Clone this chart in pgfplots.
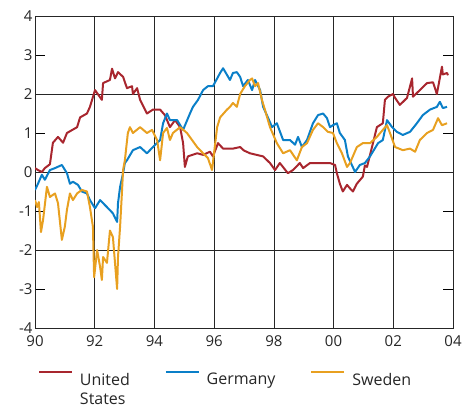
\documentclass[border=0pt]{standalone}
\usepackage{fontspec}
\setmainfont{Open Sans}
\usepackage{pgfplots}
\pgfplotsset{compat=1.18}
\definecolor{usred}{HTML}{A8262E}
\definecolor{deblue}{HTML}{0A7FC8}
\definecolor{seor}{HTML}{E8A020}
\begin{document}
\begin{tikzpicture}
\path[use as bounding box] (-35bp,-82bp) rectangle (432bp,328bp);
\begin{axis}[
  scale only axis, width=418bp, height=312bp,
  xmin=90, xmax=104, ymin=-4, ymax=4,
  xtick={90,92,...,104}, xticklabels={90,92,94,96,98,00,02,04},
  ytick={-4,...,4},
  extra y ticks={-2,0,2}, extra y tick labels={},
  extra y tick style={grid=major, major tick length=0pt},
  xmajorgrids,
  grid style={black!85, line width=0.6pt},
  axis line style={black!85, line width=0.8pt},
  x tick style={draw=none},
  y tick style={black, line width=0.6pt},
  major tick length=10bp,
  tick align=inside,
  ytick pos=both, yticklabel pos=left,
  tick label style={font=\fontsize{15bp}{16bp}\selectfont, text=black!85},
  /pgf/number format/assume math mode=true,
  xticklabel style={yshift=-4bp},
  yticklabel style={xshift=1bp},
  legend style={at={(0,-41bp)}, anchor=north west, draw=none, fill=none,
    legend columns=3, font=\fontsize{16bp}{18.5bp}\selectfont, text=black!85,
    cells={align=left, anchor=north west},
    /tikz/every odd column/.append style={column sep=5bp},
    /tikz/every even column/.append style={column sep=33bp}},
  legend image code/.code={\draw[#1, line width=1.8pt] (0bp,-1bp) -- (33bp,-1bp);},
  every axis plot/.append style={line width=2pt, line join=round},
]
\addplot[usred] coordinates {
(90.00,0.10)(90.10,0.05)(90.23,0.00)(90.33,0.10)(90.50,0.20)(90.60,0.75)(90.77,0.90)(90.94,0.75)
(91.07,1.00)(91.41,1.15)(91.51,1.40)(91.74,1.50)(91.84,1.67)(92.01,2.10)(92.24,1.85)(92.28,2.28)
(92.51,2.36)(92.58,2.65)(92.68,2.40)(92.78,2.56)(92.95,2.44)(93.08,2.15)(93.25,2.20)(93.28,2.00)
(93.42,2.15)(93.52,1.85)(93.75,1.50)(93.95,1.60)(94.19,1.60)(94.35,1.46)(94.52,1.15)(94.69,1.33)
(94.86,1.15)(94.96,0.74)(95.02,0.13)(95.12,0.40)(95.43,0.48)(95.63,0.44)(95.86,0.52)(95.96,0.40)
(96.13,0.74)(96.30,0.60)(96.63,0.60)(96.87,0.64)(97.00,0.55)(97.20,0.48)(97.64,0.40)(97.87,0.23)
(98.04,0.05)(98.20,0.23)(98.47,-0.03)(98.64,0.05)(98.87,0.23)(98.98,0.10)(99.21,0.23)(99.54,0.23)
(99.88,0.23)(100.05,0.18)(100.11,-0.03)(100.21,-0.30)(100.31,-0.50)(100.45,-0.33)(100.55,-0.42)
(100.65,-0.50)(100.78,-0.30)(100.98,-0.12)(101.05,0.17)(101.12,0.13)(101.32,0.74)(101.45,1.15)
(101.65,1.25)(101.72,1.85)(101.82,1.93)(101.99,2.00)(102.06,1.90)(102.22,1.72)(102.46,1.90)
(102.63,2.40)(102.66,1.93)(102.89,2.10)(103.13,2.28)(103.33,2.30)(103.46,2.00)(103.63,2.70)
(103.66,2.50)(103.80,2.54)(103.83,2.48)
};
\addlegendentry{United\\States}
\addplot[deblue] coordinates {
(90.00,-0.46)(90.10,-0.30)(90.23,-0.07)(90.33,-0.20)(90.50,0.05)(90.67,0.10)(90.90,0.18)(91.07,-0.03)
(91.17,-0.30)(91.27,-0.25)(91.44,-0.33)(91.57,-0.50)(91.74,-0.55)(91.84,-0.72)(92.01,-0.93)(92.18,-0.72)
(92.41,-0.90)(92.61,-1.06)(92.75,-1.28)(92.78,-0.80)(92.85,-0.38)(92.95,-0.03)(93.01,0.23)(93.08,0.30)
(93.28,0.56)(93.52,0.64)(93.75,0.48)(93.95,0.64)(94.19,0.82)(94.29,1.25)(94.42,1.50)(94.52,1.33)
(94.76,1.33)(94.96,1.08)(95.19,1.50)(95.29,1.67)(95.46,1.85)(95.63,2.10)(95.79,2.20)(95.96,2.20)
(96.20,2.54)(96.30,2.66)(96.53,2.36)(96.63,2.54)(96.76,2.56)(96.87,2.44)(96.97,2.20)(97.13,2.36)
(97.27,2.10)(97.37,2.36)(97.54,2.10)(97.64,1.67)(97.80,1.40)(97.94,1.15)(98.10,1.25)(98.31,0.82)
(98.54,0.82)(98.71,0.70)(98.81,0.90)(98.94,0.64)(99.11,0.82)(99.31,1.25)(99.48,1.46)(99.65,1.50)
(99.78,1.38)(99.88,1.15)(99.98,1.20)(100.11,1.25)(100.21,1.00)(100.38,0.82)(100.48,0.40)(100.72,0.00)
(100.88,0.18)(101.05,0.23)(101.22,0.40)(101.49,0.74)(101.65,0.82)(101.79,1.33)(101.96,1.15)(102.12,1.03)
(102.32,0.95)(102.56,1.03)(102.79,1.25)(102.99,1.46)(103.23,1.60)(103.46,1.67)(103.56,1.80)(103.66,1.64)
(103.80,1.67)
};
\addlegendentry{Germany}
\addplot[seor] coordinates {
(90.00,-0.72)(90.07,-0.90)(90.13,-0.77)(90.20,-1.54)(90.27,-1.23)(90.40,-0.38)(90.50,-0.64)(90.67,-0.55)
(90.77,-0.80)(90.90,-1.74)(91.00,-1.40)(91.07,-0.97)(91.17,-0.55)(91.27,-0.72)(91.41,-0.55)(91.57,-0.46)
(91.74,-0.50)(91.84,-0.90)(91.94,-1.40)(91.98,-2.70)(92.08,-2.00)(92.18,-2.43)(92.24,-2.77)(92.28,-2.18)
(92.41,-2.33)(92.51,-1.50)(92.61,-1.67)(92.75,-3.00)(92.78,-2.18)(92.85,-1.40)(92.91,-0.55)(92.95,0.05)
(93.01,0.30)(93.11,1.00)(93.18,1.15)(93.28,1.00)(93.52,1.15)(93.75,1.00)(93.92,1.08)(94.09,0.82)
(94.19,0.30)(94.29,1.00)(94.42,1.13)(94.52,0.82)(94.62,1.00)(94.86,1.15)(95.09,1.00)(95.26,0.82)
(95.43,0.64)(95.63,0.48)(95.79,0.36)(95.93,0.05)(96.10,1.15)(96.20,1.40)(96.43,1.60)(96.53,1.67)
(96.63,1.77)(96.76,1.67)(96.87,2.00)(97.03,2.20)(97.20,2.36)(97.27,2.40)(97.37,2.20)(97.47,2.28)
(97.60,1.85)(97.70,1.60)(97.87,1.15)(98.10,0.74)(98.31,0.48)(98.54,0.56)(98.77,0.30)(98.94,0.64)
(99.11,0.74)(99.31,1.08)(99.48,1.25)(99.65,1.15)(99.81,1.03)(99.98,1.00)(100.11,0.74)(100.28,0.48)
(100.45,0.13)(100.55,0.23)(100.78,0.64)(100.98,0.74)(101.22,0.74)(101.45,0.90)(101.65,1.08)(101.79,1.20)
(101.89,1.00)(102.06,0.64)(102.32,0.56)(102.56,0.60)(102.73,0.52)(102.89,0.82)(103.13,1.00)(103.33,1.08)
(103.50,1.38)(103.63,1.20)(103.80,1.25)
};
\addlegendentry{Sweden}
\end{axis}
\end{tikzpicture}
\end{document}
